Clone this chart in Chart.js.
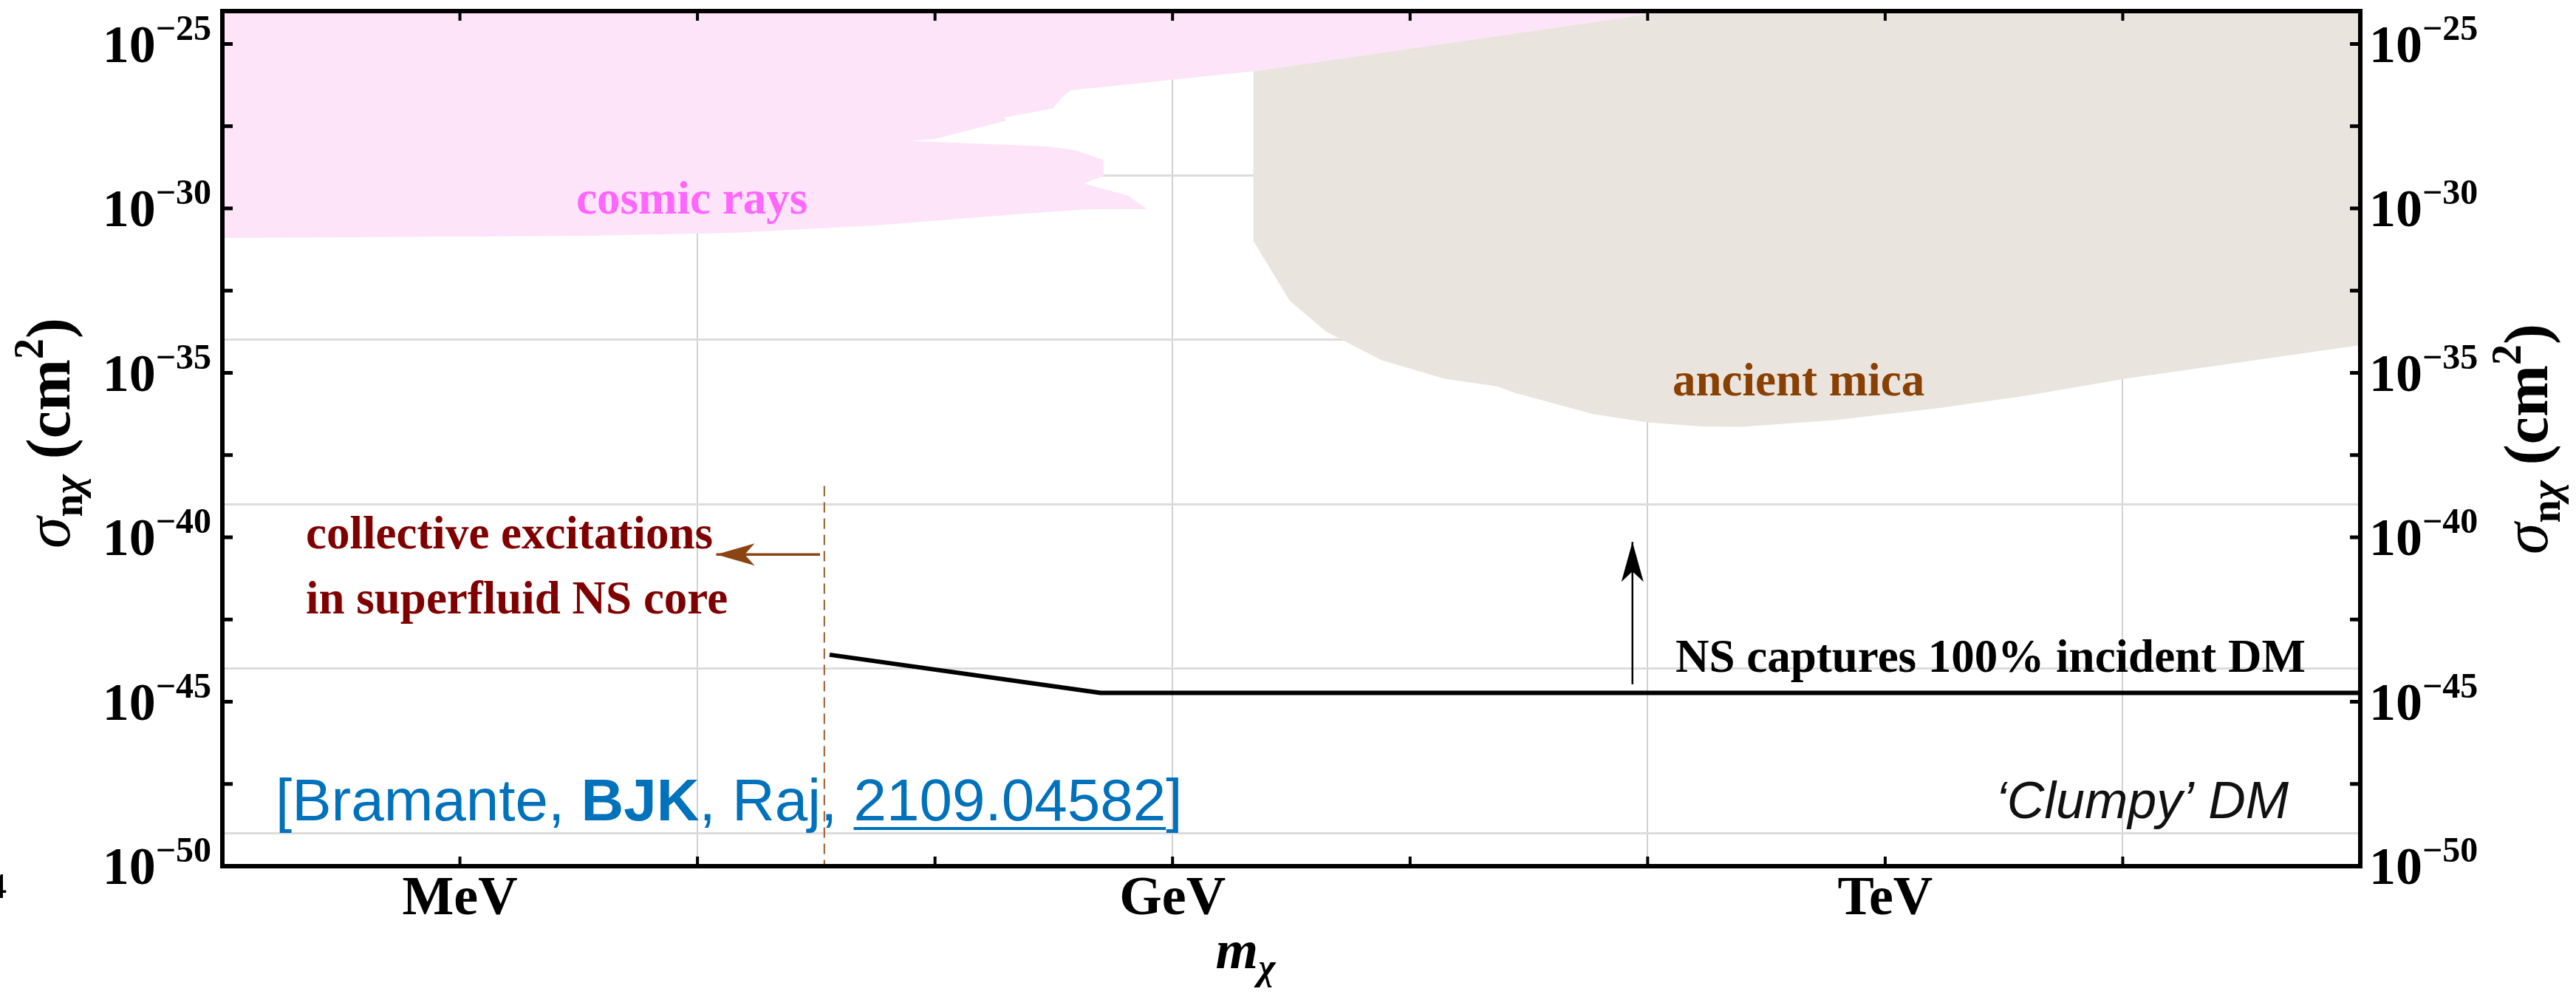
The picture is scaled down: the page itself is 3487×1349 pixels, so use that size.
<!DOCTYPE html>
<html>
<head>
<meta charset="utf-8">
<script src="https://cdn.jsdelivr.net/npm/chart.js@4.4.1/dist/chart.umd.min.js"></script>
<style>
html,body{margin:0;padding:0;background:#ffffff;}
canvas{display:block;}
</style>
</head>
<body>
<canvas id="c" width="3487" height="1349"></canvas>
<script>
// ---------------- data (m_chi in GeV, sigma_n_chi in cm^2) ----------------
const cosmicMass  = [1e-4, 123, 4.57, 2.14, 0.851, 0.372, 0.343, 0.313, 0.195, 0.2, 0.1, 0.0794,
                     0.293, 0.385, 0.513, 0.513, 0.423, 0.652, 0.782, 0.432, 0.219, 0.055, 0.0141, 0.00355, 1e-4];
const cosmicSigma = [1e-24, 1e-24, 3.16e-26, 1.45e-26, 7.24e-27, 3.89e-27, 2.40e-27, 1.10e-27, 5.75e-28, 4.68e-28, 1.29e-28, 1.12e-28,
                     7.76e-29, 6.03e-29, 3.02e-29, 9.77e-30, 5.75e-30, 2.40e-30, 9.55e-31, 9.33e-31, 6.61e-31, 3.02e-31, 1.82e-31, 1.48e-31, 1.26e-31];

const micaMass  = [2.19, 123, 1e5, 1e5, 1.02e4, 3899, 1694, 610, 249, 169, 101, 58.9, 27.4, 23.3, 14.0, 7.60, 4.42, 3.11, 2.19];
const micaSigma = [1.48e-26, 1e-24, 1e-24, 6.92e-35, 6.61e-36, 2.0e-36, 8.51e-37, 3.63e-37, 2.29e-37, 2.34e-37, 3.09e-37, 5.62e-37,
                   2.51e-36, 3.89e-36, 6.61e-36, 2.40e-35, 1.82e-34, 1.58e-33, 1.02e-31];

const nsMass  = [0.036, 0.497, 1e5];
const nsSigma = [2.69e-44, 1.86e-45, 1.86e-45];

const superfluidMass  = [0.0342, 0.0342];
const superfluidSigma = [3.63e-39, 1e-50];

const superfluidArrowMass  = [0.0328, 0.0120];
const superfluidArrowSigma = [3.02e-41, 3.02e-41];

const captureArrowMass  = [86.3, 86.3];
const captureArrowSigma = [3.39e-45, 7.24e-41];

const xTickLabels = ['MeV', 'GeV', 'TeV'];
const xTickValues = [1e-3, 1, 1e3];
const xFrameTicks = [1e-3, 1e-2, 1e-1, 1, 1e1, 1e2, 1e3, 1e4];
const xGridValues = [1e-2, 1, 1e2, 1e4];

const yTickExponents = [-25, -30, -35, -40, -45, -50];
const yTickValues = [1e-25, 1e-30, 1e-35, 1e-40, 1e-45, 1e-50];
const yFrameTicks = [1e-25, 3.162e-28, 1e-30, 3.162e-33, 1e-35, 3.162e-38, 1e-40, 3.162e-43, 1e-45, 3.162e-48];
const yGridValues = [1e-29, 1e-34, 1e-39, 1e-44, 1e-49];

// ---------------- helpers ----------------
const pts = (xs, ys) => xs.map((v, i) => ({x: v, y: ys[i]}));
const SERIF = '"Liberation Serif", "Times New Roman", serif';
const SANS = '"Liberation Sans", Arial, sans-serif';

function runsWidth(ctx, parts) {
  let w = 0;
  for (const p of parts) { ctx.font = p.font; w += ctx.measureText(p.t).width; }
  return w;
}
function drawRuns(ctx, parts, x, y) {
  let cx = x;
  for (const p of parts) {
    ctx.font = p.font;
    if (p.color) ctx.fillStyle = p.color;
    const w = ctx.measureText(p.t).width;
    ctx.fillText(p.t, cx, y + (p.dy || 0));
    if (p.underline) { ctx.fillRect(cx, y + 9, w, 4); }
    cx += w;
  }
  return cx - x;
}
function arrowHead(ctx, x1, y1, x2, y2, len, half, color) {
  const ang = Math.atan2(y2 - y1, x2 - x1);
  ctx.save();
  ctx.translate(x2, y2);
  ctx.rotate(ang);
  ctx.beginPath();
  ctx.moveTo(0, 0);
  ctx.lineTo(-len, -half);
  ctx.lineTo(-len * 0.74, 0);
  ctx.lineTo(-len, half);
  ctx.closePath();
  ctx.fillStyle = color;
  ctx.fill();
  ctx.restore();
}

const decor = {
  id: 'decor',
  afterDatasetsDraw(chart) {
    const {ctx, scales: {x, y}} = chart;
    ctx.save();
    arrowHead(ctx,
      x.getPixelForValue(superfluidArrowMass[0]), y.getPixelForValue(superfluidArrowSigma[0]),
      x.getPixelForValue(superfluidArrowMass[1]), y.getPixelForValue(superfluidArrowSigma[1]),
      52, 15, '#8b4513');
    arrowHead(ctx,
      x.getPixelForValue(captureArrowMass[0]), y.getPixelForValue(captureArrowSigma[0]),
      x.getPixelForValue(captureArrowMass[1]), y.getPixelForValue(captureArrowSigma[1]),
      54, 15, '#000000');
    ctx.restore();
  },
  afterDraw(chart) {
    const {ctx, chartArea: a, scales: {x, y}} = chart;
    ctx.save();
    // frame
    ctx.strokeStyle = '#000';
    ctx.lineWidth = 6;
    ctx.strokeRect(a.left, a.top, a.right - a.left, a.bottom - a.top);
    // inward ticks
    ctx.fillStyle = '#000';
    for (const v of xFrameTicks) {
      const px = x.getPixelForValue(v);
      ctx.fillRect(px - 2, a.top, 4, 13);
      ctx.fillRect(px - 2, a.bottom - 13, 4, 13);
    }
    for (const v of yFrameTicks) {
      const py = y.getPixelForValue(v);
      ctx.fillRect(a.left, py - 2.5, 14, 5);
      ctx.fillRect(a.right - 14, py - 2.5, 14, 5);
    }
    // y tick labels (left and right)
    ctx.textAlign = 'left';
    ctx.textBaseline = 'alphabetic';
    ctx.fillStyle = '#000';
    const big = `bold 72px ${SERIF}`, sup = `bold 48px ${SERIF}`;
    yTickValues.forEach((v, i) => {
      const py = y.getPixelForValue(v);
      const parts = [{t: '10', font: big}, {t: '\u2212' + Math.abs(yTickExponents[i]), font: sup, dy: -30}];
      const w = runsWidth(ctx, parts);
      drawRuns(ctx, parts, a.left - 15 - w, py + 24);
      drawRuns(ctx, parts, a.right + 12, py + 24);
    });
    // x tick labels
    ctx.textAlign = 'center';
    ctx.font = `bold 74px ${SERIF}`;
    xTickValues.forEach((v, i) => {
      ctx.fillText(xTickLabels[i], x.getPixelForValue(v), a.bottom + 65);
    });
    ctx.textAlign = 'left';
    // x axis title m_chi
    const mParts = [{t: 'm', font: `italic bold 74px ${SERIF}`}, {t: '\u03c7', font: `italic bold 50px ${SERIF}`, dy: 15}];
    const mw = runsWidth(ctx, mParts);
    drawRuns(ctx, mParts, 1686 - mw / 2, 1310);
    // y axis titles (rotated)
    const sParts = [
      {t: '\u03c3', font: `italic 86px ${SERIF}`},
      {t: 'n', font: `bold 56px ${SERIF}`, dy: 17},
      {t: '\u03c7', font: `italic bold 56px ${SERIF}`, dy: 17},
      {t: ' (cm', font: `bold 84px ${SERIF}`},
      {t: '2', font: `bold 56px ${SERIF}`, dy: -36},
      {t: ')', font: `bold 84px ${SERIF}`}
    ];
    const sw = runsWidth(ctx, sParts);
    for (const [cx, cy] of [[70, 586], [3424, 594]]) {
      ctx.save();
      ctx.translate(cx, cy);
      ctx.rotate(-Math.PI / 2);
      drawRuns(ctx, sParts, -sw / 2, 24);
      ctx.restore();
    }
    // annotations
    ctx.font = `bold 63px ${SERIF}`;
    ctx.fillStyle = '#ff66ff';
    ctx.fillText('cosmic rays', 780, 289);
    ctx.fillStyle = '#8a4000';
    ctx.fillText('ancient mica', 2264, 535);
    ctx.fillStyle = '#800000';
    ctx.fillText('collective excitations', 414, 742);
    ctx.fillText('in superfluid NS core', 414, 830);
    ctx.fillStyle = '#000000';
    ctx.fillText('NS captures 100% incident DM', 2268, 909);
    // citation
    ctx.fillStyle = '#0071bb';
    drawRuns(ctx, [
      {t: '[Bramante, ', font: `80px ${SANS}`},
      {t: 'BJK', font: `bold 80px ${SANS}`},
      {t: ', Raj, ', font: `80px ${SANS}`},
      {t: '2109.04582', font: `80px ${SANS}`, underline: true},
      {t: ']', font: `80px ${SANS}`}
    ], 373, 1110);
    // model label
    ctx.fillStyle = '#111111';
    ctx.font = `italic 70px ${SANS}`;
    ctx.textAlign = 'right';
    ctx.fillText('\u2018Clumpy\u2019 DM', 3098, 1107);
    // stray fragment at the left edge
    ctx.font = `48px ${SERIF}`;
    ctx.fillStyle = '#000';
    ctx.fillText('4', 9, 1215);
    ctx.restore();
  }
};

new Chart(document.getElementById('c'), {
  type: 'line',
  data: {
    datasets: [
      {label: 'NS captures 100% incident DM', data: pts(nsMass, nsSigma), borderColor: '#000000', borderWidth: 6,
       pointRadius: 0, fill: false, tension: 0, borderJoinStyle: 'miter'},
      {label: 'capture arrow', data: pts(captureArrowMass, captureArrowSigma), borderColor: '#000000', borderWidth: 2.5,
       pointRadius: 0, fill: false},
      {label: 'superfluid arrow', data: pts(superfluidArrowMass, superfluidArrowSigma), borderColor: '#8b4513', borderWidth: 3.5,
       pointRadius: 0, fill: false},
      {label: 'superfluid boundary', data: pts(superfluidMass, superfluidSigma), borderColor: '#a0582a', borderWidth: 2,
       borderDash: [14, 8], pointRadius: 0, fill: false},
      {label: 'cosmic rays', data: pts(cosmicMass, cosmicSigma), borderWidth: 0, borderColor: '#fde4f9',
       backgroundColor: '#fde4f9', pointRadius: 0, fill: 'shape', tension: 0},
      {label: 'ancient mica', data: pts(micaMass, micaSigma), borderWidth: 0, borderColor: '#e9e4de',
       backgroundColor: '#e9e4de', pointRadius: 0, fill: 'shape', tension: 0}
    ]
  },
  options: {
    responsive: false,
    maintainAspectRatio: false,
    devicePixelRatio: 1,
    animation: false,
    layout: {padding: {left: 301, right: 292, top: 15, bottom: 177}},
    plugins: {legend: {display: false}, tooltip: {enabled: false}},
    scales: {
      x: {
        type: 'logarithmic', min: 1e-4, max: 1e5, bounds: 'data',
        ticks: {display: false},
        grid: {drawTicks: false, color: '#d2d2d2', lineWidth: 2},
        border: {display: false},
        afterBuildTicks: (s) => { s.ticks = xGridValues.map(v => ({value: v})); },
        afterFit: (s) => { s.height = 0; }
      },
      y: {
        type: 'logarithmic', min: 1e-50, max: 1e-24, bounds: 'data',
        ticks: {display: false},
        grid: {drawTicks: false, color: '#dcdcdc', lineWidth: 3},
        border: {display: false},
        afterBuildTicks: (s) => { s.ticks = yGridValues.map(v => ({value: v})); },
        afterFit: (s) => { s.width = 0; }
      }
    }
  },
  plugins: [decor]
});
</script>
</body>
</html>
